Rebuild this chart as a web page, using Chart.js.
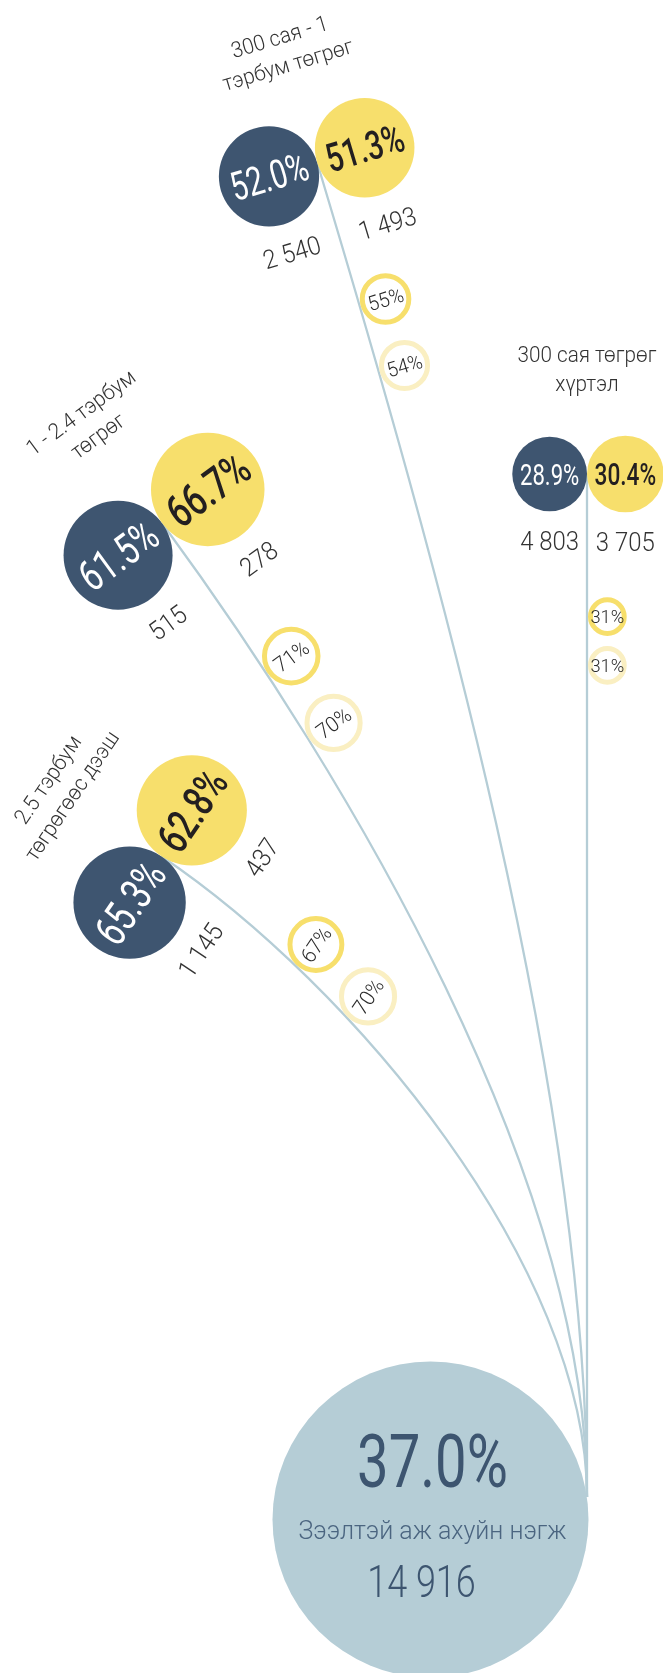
<!DOCTYPE html>
<html>
<head>
<meta charset="utf-8">
<script src="https://cdn.jsdelivr.net/npm/chart.js@4"></script>
<style>
  html, body { margin: 0; padding: 0; background: #fff; }
  canvas { display: block; }
</style>
</head>
<body>
<canvas id="loanChart" width="663" height="1673"></canvas>
<script>
// Loan holding businesses, by loan size
const categories = ['300 сая төгрөг хүртэл', '300 сая - 1 тэрбум төгрөг', '1 - 2.4 тэрбум төгрөг', '2.5 тэрбум төгрөгөөс дээш'];
const categoryLines = [['300 сая төгрөг', 'хүртэл'], ['300 сая - 1', 'тэрбум төгрөг'], ['1 - 2.4 тэрбум', 'төгрөг'], ['2.5 тэрбум', 'төгрөгөөс дээш']];
const darkPct = [28.9, 52.0, 61.5, 65.3];
const yellowPct = [30.4, 51.3, 66.7, 62.8];
const darkCount = [4803, 2540, 515, 1145];
const yellowCount = [3705, 1493, 278, 437];
const ringPct1 = [31, 55, 71, 67];
const ringPct2 = [31, 54, 70, 70];
const totalPct = 37.0;
const totalCount = 14916;
const totalLabel = 'Зээлтэй аж ахуйн нэгж';

// layout, in pixels
const W = 663, H = 1673;
const K = 6.95; // circle radius = K * sqrt(percent)
const branches = [
  { x: 587, y: 474, angle: 0, rings: [141, 191] },
  { x: 317, y: 162, angle: -16.7, rings: [150, 219] },
  { x: 162, y: 523, angle: -36.3, rings: [181, 260] },
  { x: 161, y: 856, angle: -56, rings: [173, 245] }
];
const hub = { x: 587, y: 1497 };
const bigCircle = { x: 430.5, y: 1519.5, r: 158 };

const DARK = '#3e5570';
const YELLOW = '#f7df6c';
const PALE = '#faefc2';
const BLUE = '#b5cdd6';
const TEXT = '#333333';

const fmtNum = n => String(n).replace(/\B(?=(\d{3})+(?!\d))/g, ' ');
const fmtPct = p => p.toFixed(1) + '%';

function bez(c, t) {
  const m = 1 - t;
  return {
    x: m*m*m*c[0].x + 3*m*m*t*c[1].x + 3*m*t*t*c[2].x + t*t*t*c[3].x,
    y: m*m*m*c[0].y + 3*m*m*t*c[1].y + 3*m*t*t*c[2].y + t*t*t*c[3].y
  };
}

function pointAtLength(c, s) {
  let len = 0, prev = bez(c, 0);
  for (let i = 1; i <= 600; i++) {
    const p = bez(c, i / 600);
    const d = Math.hypot(p.x - prev.x, p.y - prev.y);
    if (len + d >= s) {
      return { pt: p, tan: { x: (p.x - prev.x) / d, y: (p.y - prev.y) / d } };
    }
    len += d;
    prev = p;
  }
  return { pt: prev, tan: { x: 0, y: 1 } };
}

const geo = branches.map((b, i) => {
  const t = b.angle * Math.PI / 180;
  const dir = { x: Math.cos(t), y: Math.sin(t) };
  const perp = { x: -Math.sin(t), y: Math.cos(t) };
  const rD = K * Math.sqrt(darkPct[i]);
  const rY = K * Math.sqrt(yellowPct[i]);
  const a = Math.hypot(hub.x - b.x, hub.y - b.y) * 0.3;
  const curve = [
    { x: b.x, y: b.y },
    { x: b.x + perp.x * a, y: b.y + perp.y * a },
    { x: hub.x, y: hub.y - a },
    { x: hub.x, y: hub.y }
  ];
  const rings = [ringPct1[i], ringPct2[i]].map((p, j) => {
    const R = K / 2 * Math.sqrt(p);
    const at = pointAtLength(curve, b.rings[j]);
    const n = { x: at.tan.y, y: -at.tan.x };
    return { x: at.pt.x + n.x * (R + 1), y: at.pt.y + n.y * (R + 1), R: R, p: p };
  });
  return {
    angle: t, dir, perp, rD, rY, curve, rings,
    dark: { x: b.x - dir.x * rD, y: b.y - dir.y * rD },
    yellow: { x: b.x + dir.x * rY, y: b.y + dir.y * rY },
    anchor: { x: b.x, y: b.y }
  };
});

function drawText(ctx, text, x, y, angle, size, weight, color, sx) {
  ctx.save();
  ctx.translate(x, y);
  ctx.rotate(angle);
  ctx.scale(sx, 1);
  ctx.font = weight + ' ' + size + 'px Roboto, "Noto Sans", sans-serif';
  ctx.fillStyle = color;
  ctx.textAlign = 'center';
  ctx.textBaseline = 'alphabetic';
  ctx.fillText(text, 0, size * 0.355);
  ctx.restore();
}

const connectorPlugin = {
  id: 'connectors',
  beforeDatasetsDraw(chart) {
    const { ctx, scales: { x, y } } = chart;
    ctx.save();
    ctx.strokeStyle = BLUE;
    ctx.lineWidth = 2.3;
    geo.forEach(g => {
      const c = g.curve.map(p => ({ x: x.getPixelForValue(p.x), y: y.getPixelForValue(p.y) }));
      ctx.beginPath();
      ctx.moveTo(c[0].x, c[0].y);
      ctx.bezierCurveTo(c[1].x, c[1].y, c[2].x, c[2].y, c[3].x, c[3].y);
      ctx.stroke();
    });
    ctx.restore();
  }
};

const labelPlugin = {
  id: 'labels',
  afterDatasetsDraw(chart) {
    const { ctx, scales: { x, y } } = chart;
    const px = v => x.getPixelForValue(v);
    const py = v => y.getPixelForValue(v);

    geo.forEach((g, i) => {
      // percentages inside circles
      drawText(ctx, fmtPct(darkPct[i]), px(g.dark.x), py(g.dark.y), g.angle, g.rD * 0.8, 400, '#ffffff', 0.74);
      drawText(ctx, fmtPct(yellowPct[i]), px(g.yellow.x), py(g.yellow.y), g.angle, g.rY * 0.8, 500, '#231f20', 0.74);

      // counts under circles
      const dv = g.rD + 29, yv = g.rY + 29;
      drawText(ctx, fmtNum(darkCount[i]), px(g.dark.x + g.perp.x * dv), py(g.dark.y + g.perp.y * dv), g.angle, 26, 300, TEXT, 0.92);
      drawText(ctx, fmtNum(yellowCount[i]), px(g.yellow.x + g.perp.x * yv), py(g.yellow.y + g.perp.y * yv), g.angle, 26, 300, TEXT, 0.92);

      // category name above the pair
      const v2 = -(Math.max(g.rD, g.rY) + 52);
      const v1 = v2 - 29;
      const lines = categoryLines[i];
      [v1, v2].forEach((v, j) => {
        drawText(ctx, lines[j], px(g.anchor.x + g.perp.x * v), py(g.anchor.y + g.perp.y * v), g.angle, 22, 300, TEXT, 0.94);
      });

      // ring percentages
      g.rings.forEach(r => {
        drawText(ctx, r.p + '%', px(r.x), py(r.y), g.angle, 15 + r.R * 0.22, 300, '#2b2b2b', 0.95);
      });
    });

    // total in the big circle
    const cx = px(bigCircle.x), cy = py(bigCircle.y);
    drawText(ctx, fmtPct(totalPct), cx + 2, cy - 32.5 - 26, 0, 74, 400, '#3d5570', 0.76);
    drawText(ctx, totalLabel, cx + 2, cy + 19.5 - 9, 0, 26, 300, '#4b6580', 0.96);
    drawText(ctx, fmtNum(totalCount), cx - 9, cy + 77.5 - 16, 0, 45, 300, '#3d5570', 0.8);
  }
};

const ringData = (pcts, j) => geo.map((g, i) => ({ x: g.rings[j].x, y: g.rings[j].y, r: K / 2 * Math.sqrt(pcts[i]) - 2.5 }));

new Chart(document.getElementById('loanChart'), {
  type: 'bubble',
  data: {
    datasets: [
      { label: 'ring1', data: ringData(ringPct1, 0), backgroundColor: '#ffffff', borderColor: YELLOW, borderWidth: 5, order: 1 },
      { label: 'ring2', data: ringData(ringPct2, 1), backgroundColor: '#ffffff', borderColor: PALE, borderWidth: 5, order: 2 },
      { label: 'yellow', data: geo.map((g, i) => ({ x: g.yellow.x, y: g.yellow.y, r: K * Math.sqrt(yellowPct[i]) })), backgroundColor: YELLOW, borderWidth: 0, order: 3 },
      { label: 'dark', data: geo.map((g, i) => ({ x: g.dark.x, y: g.dark.y, r: K * Math.sqrt(darkPct[i]) })), backgroundColor: DARK, borderWidth: 0, order: 4 },
      { label: 'total', data: [{ x: bigCircle.x, y: bigCircle.y, r: bigCircle.r }], backgroundColor: BLUE, borderWidth: 0, order: 5 }
    ]
  },
  options: {
    responsive: false,
    animation: false,
    events: [],
    layout: { padding: 0, autoPadding: false },
    plugins: {
      legend: { display: false },
      tooltip: { enabled: false }
    },
    scales: {
      x: { type: 'linear', min: 0, max: W, display: false },
      y: { type: 'linear', min: 0, max: H, reverse: true, display: false }
    }
  },
  plugins: [connectorPlugin, labelPlugin]
});
</script>
</body>
</html>
